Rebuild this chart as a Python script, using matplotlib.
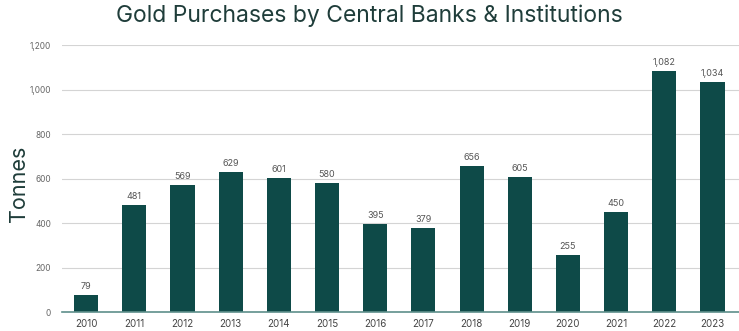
import matplotlib.pyplot as plt
from matplotlib.ticker import FuncFormatter

years = ['2010', '2011', '2012', '2013', '2014', '2015', '2016',
         '2017', '2018', '2019', '2020', '2021', '2022', '2023']
tonnes = [79, 481, 569, 629, 601, 580, 395, 379, 656, 605, 255, 450, 1082, 1034]

BAR = '#0e4a48'
TXT = '#555555'

plt.rcParams['font.family'] = ['Inter', 'DejaVu Sans']

fig = plt.figure(figsize=(7.39, 3.31), dpi=100)
ax = fig.add_axes([0.084, 0.057, 0.916, 0.807])

x = range(len(years))
bars = ax.bar(x, tonnes, width=0.5, color=BAR, zorder=3)
for xi, v in zip(x, tonnes):
    ax.text(xi, v + 18, f'{v:,}', ha='center', va='bottom', fontsize=6.5, color=TXT)

ax.set_ylim(0, 1200)
ax.set_xlim(-0.5, 13.55)
ax.set_yticks(range(0, 1201, 200))
ax.yaxis.set_major_formatter(FuncFormatter(lambda v, p: f'{int(v):,}'))
ax.set_xticks(list(x))
ax.set_xticklabels(years)
ax.tick_params(axis='y', length=0, labelsize=6, labelcolor='#666666', pad=8)
ax.tick_params(axis='x', length=0, labelsize=7, labelcolor='#444444', pad=5)
ax.grid(axis='y', color='#d4d4d4', linewidth=0.8, zorder=0)
for s in ['top', 'right', 'left']:
    ax.spines[s].set_visible(False)
ax.spines['bottom'].set_color('#5e8f8b')
ax.spines['bottom'].set_linewidth(1.2)
ax.spines['bottom'].set_zorder(4)

fig.text(0.026, 0.445, 'Tonnes', rotation=90, fontsize=15.5, color='#1f3d3a',
         ha='center', va='center')
fig.suptitle('Gold Purchases by Central Banks & Institutions', fontsize=16.5,
             color='#1f3d3a', y=0.985, x=0.5)

fig.savefig('out.png', dpi=100)
